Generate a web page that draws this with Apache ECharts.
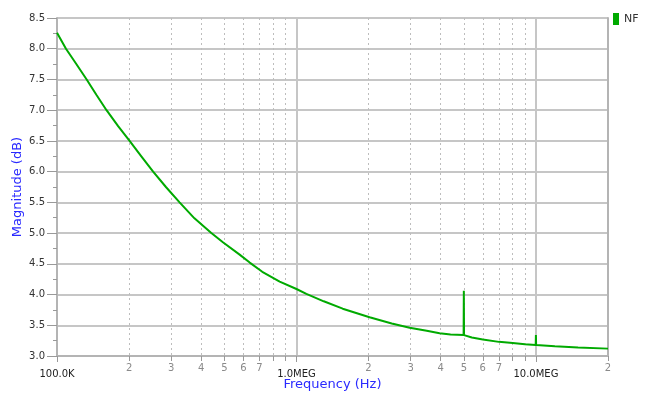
<!DOCTYPE html>
<html>
<head>
<meta charset="utf-8">
<script src="https://cdn.jsdelivr.net/npm/echarts@6/dist/echarts.min.js"></script>
<style>
html,body{margin:0;padding:0;background:#fff;}
#chart{width:650px;height:395px;}
</style>
</head>
<body>
<div id="chart"></div>
<script>
// Frequency points (Hz) and NF values (dB)
var freqHz = [1.00e5, 1.09e5, 1.20e5, 1.33e5, 1.46e5, 1.61e5, 1.80e5, 2.01e5, 2.25e5, 2.52e5,
  2.85e5, 3.25e5, 3.75e5, 4.41e5, 4.93e5, 5.79e5, 6.38e5, 7.20e5, 8.51e5, 1.00e6,
  1.10e6, 1.30e6, 1.56e6, 2.02e6, 2.50e6, 2.97e6, 3.50e6, 3.96e6, 4.40e6, 4.99e6,
  5.00e6, 5.01e6, 5.40e6, 6.00e6, 7.00e6, 8.00e6, 9.00e6, 9.98e6, 1.00e7, 1.002e7,
  1.20e7, 1.50e7, 2.00e7];
var nfDb = [8.26, 8.00, 7.76, 7.50, 7.25, 7.00, 6.74, 6.50, 6.25, 6.00,
  5.75, 5.50, 5.24, 5.00, 4.85, 4.65, 4.52, 4.37, 4.21, 4.09,
  4.01, 3.89, 3.77, 3.63, 3.53, 3.46, 3.41, 3.37, 3.35, 3.34,
  4.06, 3.34, 3.30, 3.27, 3.23, 3.21, 3.19, 3.18, 3.34, 3.18,
  3.16, 3.14, 3.12];

// Axis tick definitions
var freqMin = 1e5, freqMax = 2e7;
var majorTicksHz = [1e5, 1e6, 1e7];
var majorLabels = ['100.0K', '1.0MEG', '10.0MEG'];
var minorTicksHz = [2e5,3e5,4e5,5e5,6e5,7e5,8e5,9e5, 2e6,3e6,4e6,5e6,6e6,7e6,8e6,9e6, 2e7];
var minorLabeledHz = [2e5,3e5,4e5,5e5,6e5,7e5, 2e6,3e6,4e6,5e6,6e6,7e6, 2e7];
var yMin = 3.0, yMax = 8.5, yStep = 0.5;
var seriesName = 'NF';

var lg = function(v){ return Math.log10(v); };
var data = freqHz.map(function(f, i){ return [lg(f), nfDb[i]]; });

var chart = echarts.init(document.getElementById('chart'), null, {renderer: 'canvas'});
var font = 'DejaVu Sans';
var gridGray = '#c6c6c6';
var axisGray = '#b4b4b4';

chart.setOption({
  animation: false,
  backgroundColor: '#fff',
  textStyle: {fontFamily: font},
  grid: {left: 57, right: 42, top: 18, bottom: 39, containLabel: false, outerBoundsMode: 'none'},
  legend: {
    show: true, left: 613, top: 13, padding: 0, orient: 'vertical',
    icon: 'rect', itemWidth: 6, itemHeight: 12,
    textStyle: {color: '#333', fontSize: 11, fontFamily: font},
    data: [seriesName]
  },
  xAxis: [
    {
      type: 'value', min: lg(freqMin), max: lg(freqMax), interval: 1,
      name: 'Frequency (Hz)', nameLocation: 'middle', nameGap: 22, nameMoveOverlap: false,
      nameTextStyle: {color: '#2a2aff', fontSize: 13, fontFamily: font},
      axisLine: {show: true, lineStyle: {color: axisGray, width: 2}},
      axisTick: {show: true, length: 6, lineStyle: {color: '#999', width: 1}},
      axisLabel: {
        margin: 13, color: '#222', fontSize: 10, fontFamily: font,
        showMaxLabel: false,
        formatter: function(v){
          for (var i = 0; i < majorTicksHz.length; i++) {
            if (Math.abs(lg(majorTicksHz[i]) - v) < 1e-6) return majorLabels[i];
          }
          return '';
        }
      },
      splitLine: {show: true, lineStyle: {color: gridGray, width: 2}}
    },
    {
      type: 'value', min: lg(freqMin), max: lg(freqMax), position: 'bottom',
      axisLine: {show: false},
      axisTick: {show: true, length: 5, lineStyle: {color: '#999'},
        customValues: minorTicksHz.map(lg)},
      axisLabel: {
        show: true, margin: 7, color: '#8a8a8a', fontSize: 10, fontFamily: font,
        customValues: minorLabeledHz.map(lg),
        formatter: function(v){ return String(Math.round(Math.pow(10, v - Math.floor(v + 1e-9)))); }
      },
      splitLine: {show: true, lineStyle: {color: '#bdbdbd', width: 1, type: [2, 3]}}
    }
  ],
  yAxis: [
    {
      type: 'value', min: yMin, max: yMax, interval: yStep,
      name: 'Magnitude (dB)', nameLocation: 'middle', nameGap: 33, nameMoveOverlap: false,
      nameTextStyle: {color: '#2a2aff', fontSize: 13, fontFamily: font},
      axisLine: {show: true, lineStyle: {color: axisGray, width: 2}},
      axisTick: {show: true, length: 10, lineStyle: {color: '#999'}},
      minorTick: {show: true, splitNumber: 2, length: 4, lineStyle: {color: '#999'}},
      axisLabel: {margin: 12, color: '#333', fontSize: 10, fontFamily: font,
        formatter: function(v){ return v.toFixed(1); }},
      splitLine: {show: true, lineStyle: {color: gridGray, width: 2}}
    },
    {
      type: 'value', min: yMin, max: yMax, position: 'right',
      axisLine: {show: true, lineStyle: {color: axisGray, width: 2}},
      axisTick: {show: false}, axisLabel: {show: false}, splitLine: {show: false}
    }
  ],
  series: [{
    name: seriesName, type: 'line', data: data, xAxisIndex: 0, yAxisIndex: 0,
    showSymbol: false, symbol: 'none',
    lineStyle: {color: '#00aa00', width: 2},
    itemStyle: {color: '#00aa00'}
  }]
});
</script>
</body>
</html>
